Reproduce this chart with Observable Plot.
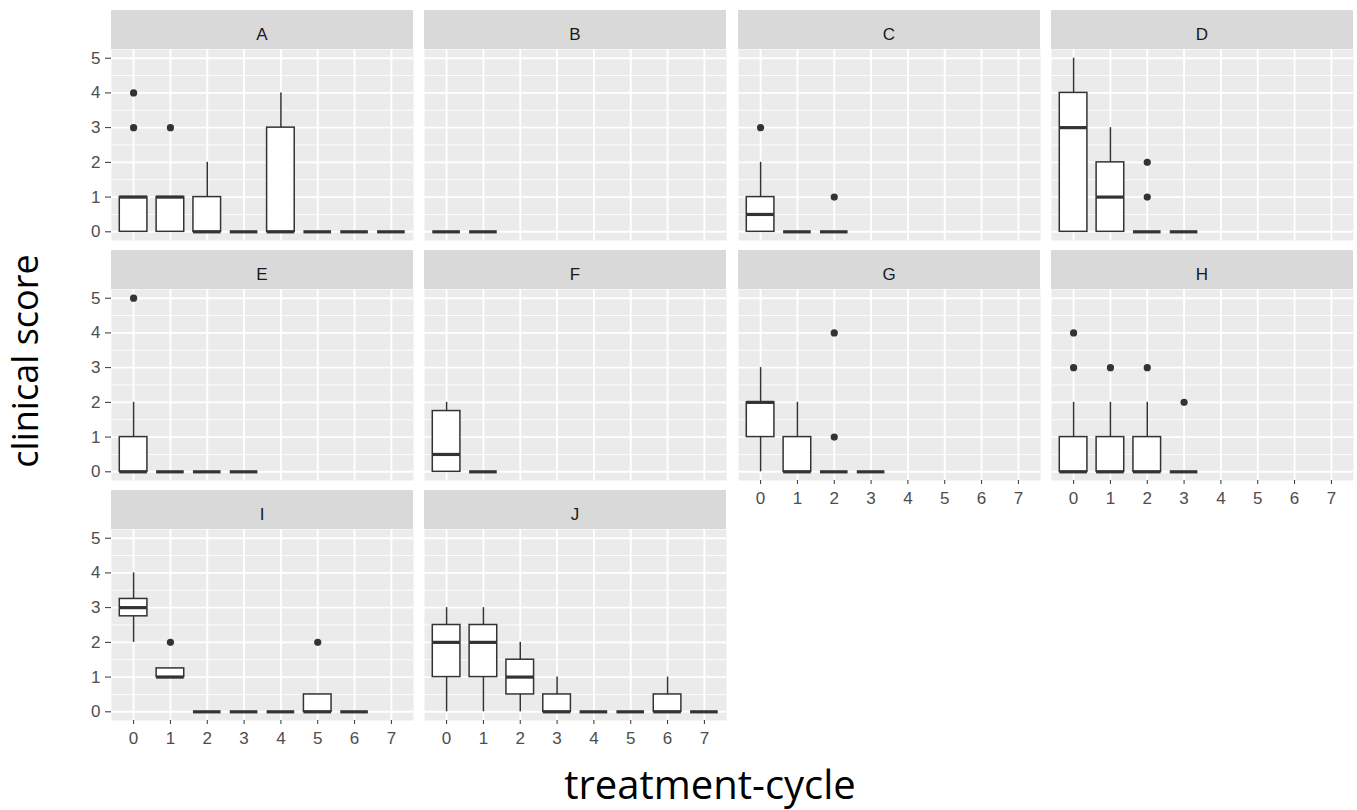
<!DOCTYPE html>
<html><head><meta charset="utf-8">
<script src="https://cdn.jsdelivr.net/npm/d3@7"></script>
<script src="https://cdn.jsdelivr.net/npm/@observablehq/plot@0.6"></script>
<style>
body{margin:0;background:#fff;}
#chart{position:relative;width:1357px;height:810px;overflow:hidden;background:#fff;}
#chart svg{position:absolute;}
.ttl{position:absolute;font-family:"Open Sans",sans-serif;color:#000;white-space:nowrap;line-height:1;}
</style></head><body><div id="chart"></div>
<script>
// Facet panels and x categories
const panelNames = ["A","B","C","D","E","F","G","H","I","J"];
const cycles = [0,1,2,3,4,5,6,7];
const yTicks = [0,1,2,3,4,5];
const yMinor = [0.5,1.5,2.5,3.5,4.5];

// Box statistics per panel: [cycle, lowerWhisker, q1, median, q3, upperWhisker]
const boxA = [[0,0,0,1,1,1],[1,0,0,1,1,1],[2,0,0,0,1,2],[3,0,0,0,0,0],[4,0,0,0,3,4],[5,0,0,0,0,0],[6,0,0,0,0,0],[7,0,0,0,0,0]];
const boxB = [[0,0,0,0,0,0],[1,0,0,0,0,0]];
const boxC = [[0,0,0,0.5,1,2],[1,0,0,0,0,0],[2,0,0,0,0,0]];
const boxD = [[0,0,0,3,4,5],[1,0,0,1,2,3],[2,0,0,0,0,0],[3,0,0,0,0,0]];
const boxE = [[0,0,0,0,1,2],[1,0,0,0,0,0],[2,0,0,0,0,0],[3,0,0,0,0,0]];
const boxF = [[0,0,0,0.5,1.75,2],[1,0,0,0,0,0]];
const boxG = [[0,0,1,2,2,3],[1,0,0,0,1,2],[2,0,0,0,0,0],[3,0,0,0,0,0]];
const boxH = [[0,0,0,0,1,2],[1,0,0,0,1,2],[2,0,0,0,1,2],[3,0,0,0,0,0]];
const boxI = [[0,2,2.75,3,3.25,4],[1,1,1,1,1.25,1.25],[2,0,0,0,0,0],[3,0,0,0,0,0],[4,0,0,0,0,0],[5,0,0,0,0.5,0.5],[6,0,0,0,0,0]];
const boxJ = [[0,0,1,2,2.5,3],[1,0,1,2,2.5,3],[2,0,0.5,1,1.5,2],[3,0,0,0,0.5,1],[4,0,0,0,0,0],[5,0,0,0,0,0],[6,0,0,0,0.5,1],[7,0,0,0,0,0]];

// Outliers per panel: [cycle, value]
const outA = [[0,3],[0,4],[1,3]];
const outB = [];
const outC = [[0,3],[2,1]];
const outD = [[2,1],[2,2]];
const outE = [[0,5]];
const outF = [];
const outG = [[2,1],[2,4]];
const outH = [[0,3],[0,4],[1,3],[2,3],[3,2]];
const outI = [[1,2],[5,2]];
const outJ = [];

const boxesByPanel = [boxA,boxB,boxC,boxD,boxE,boxF,boxG,boxH,boxI,boxJ];
const outsByPanel = [outA,outB,outC,outD,outE,outF,outG,outH,outI,outJ];

// Layout
const PW = 302, PH = 191, STRIP = 39;
const colX = [110.5, 424, 737.5, 1051];
const panelTop = [48.7, 289, 529.3];
const HALF = 0.375;
const DARK = "#333333";

function stripMark(name) {
  return function(...args) {
    const dim = args.find(a => a && typeof a === "object" && "marginTop" in a && "width" in a);
    const g = d3.create("svg:g");
    const w = dim.width - dim.marginLeft - dim.marginRight;
    g.append("rect").attr("x", dim.marginLeft).attr("y", 0).attr("width", w).attr("height", dim.marginTop).attr("fill", "#D9D9D9");
    g.append("text").attr("x", dim.marginLeft + w / 2).attr("y", 29.5).attr("text-anchor", "middle")
      .attr("fill", "#1A1A1A").attr("font-size", 17).attr("font-family", "Liberation Sans, Arial, sans-serif").text(name);
    return g.node();
  };
}

function panel(i) {
  const col = i % 4, row = Math.floor(i / 4);
  const showY = col === 0;
  const showX = i + 4 >= panelNames.length;
  const mL = showY ? 50 : 0, mB = showX ? 34 : 0;
  const boxes = boxesByPanel[i], outs = outsByPanel[i];
  const marks = [
    Plot.frame({fill: "#EBEBEB", stroke: "none"}),
    Plot.ruleY(yMinor, {y: d => d, stroke: "white", strokeWidth: 0.9}),
    Plot.ruleY(yTicks, {y: d => d, stroke: "white", strokeWidth: 1.9}),
    Plot.ruleX(cycles, {x: d => d, stroke: "white", strokeWidth: 1.9}),
    Plot.ruleX(boxes, {x: d => d[0], y1: d => d[1], y2: d => d[2], stroke: DARK, strokeWidth: 1.5}),
    Plot.ruleX(boxes, {x: d => d[0], y1: d => d[4], y2: d => d[5], stroke: DARK, strokeWidth: 1.5}),
    Plot.rect(boxes, {x1: d => d[0] - HALF, x2: d => d[0] + HALF, y1: d => d[2], y2: d => d[4], fill: "white", stroke: DARK, strokeWidth: 1.5}),
    Plot.ruleY(boxes, {y: d => d[3], x1: d => d[0] - HALF, x2: d => d[0] + HALF, stroke: DARK, strokeWidth: 3.2}),
    Plot.dot(outs, {x: d => d[0], y: d => d[1], r: 3.6, fill: DARK, stroke: "none"}),
    stripMark(panelNames[i])
  ];
  if (showY) marks.push(Plot.axisY(yTicks, {tickSize: 6, tickPadding: 5, stroke: DARK, fill: "#4D4D4D", fontSize: 17, label: null}));
  if (showX) marks.push(Plot.axisX(cycles, {tickSize: 4, tickPadding: 7, stroke: DARK, fill: "#4D4D4D", fontSize: 17, label: null}));
  const xOpt = {domain: [-0.6, 7.6]};
  const yOpt = {domain: [-0.25, 5.25]};
  if (!showX) xOpt.axis = null;
  if (!showY) yOpt.axis = null;
  const svg = Plot.plot({
    width: mL + PW, height: STRIP + PH + mB,
    marginLeft: mL, marginRight: 0, marginTop: STRIP, marginBottom: mB,
    style: {background: "transparent", fontFamily: "Liberation Sans, Arial, sans-serif", fontSize: "17px", color: "#4D4D4D", overflow: "visible"},
    x: xOpt, y: yOpt,
    marks
  });
  svg.style.left = (colX[col] - mL) + "px";
  svg.style.top = (panelTop[row] - STRIP) + "px";
  return svg;
}

const chart = document.getElementById("chart");
panelNames.forEach((_, i) => chart.appendChild(panel(i)));

const yTitle = document.createElement("div");
yTitle.className = "ttl";
yTitle.textContent = "clinical score";
yTitle.style.fontSize = "36px";
yTitle.style.left = "25px"; yTitle.style.top = "361px";
yTitle.style.transform = "translate(-50%,-50%) rotate(-90deg)";
chart.appendChild(yTitle);

const xTitle = document.createElement("div");
xTitle.className = "ttl";
xTitle.textContent = "treatment-cycle";
xTitle.style.fontSize = "40px";
xTitle.style.left = "710px"; xTitle.style.top = "784px";
xTitle.style.transform = "translate(-50%,-50%)";
chart.appendChild(xTitle);
</script>
</body></html>
